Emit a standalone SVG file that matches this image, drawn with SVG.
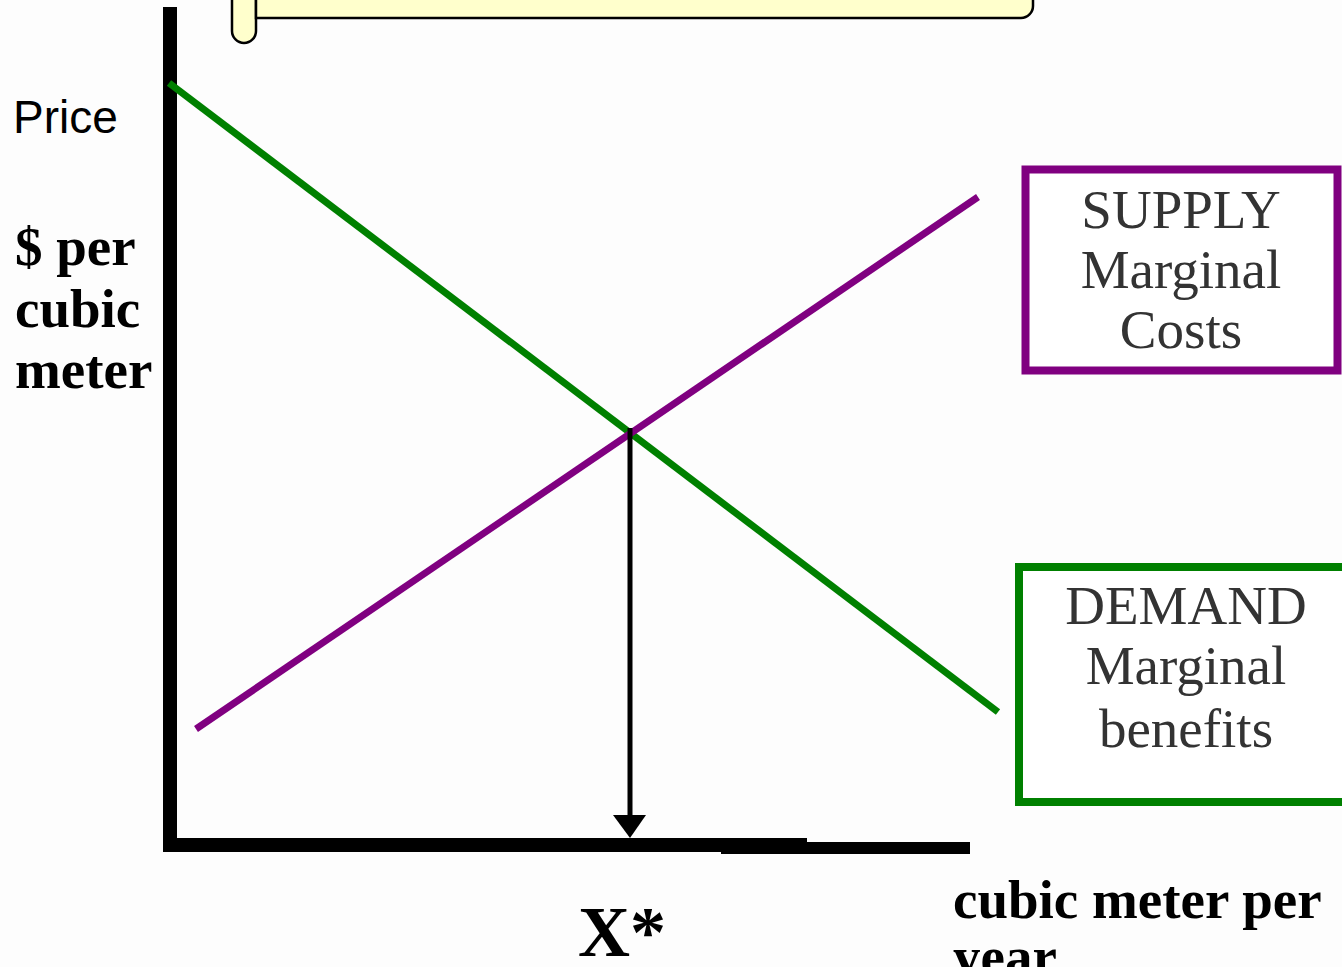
<svg xmlns="http://www.w3.org/2000/svg" width="1342" height="967" viewBox="0 0 1342 967">
<style>
.serif{font-family:"Liberation Serif","Times New Roman",serif}
.bold{font-weight:bold;fill:#000}
.box{fill:#fff;stroke-width:8}
.boxtxt{font-size:55px;fill:#333;text-anchor:middle}
.curve{stroke-width:7;fill:none}
</style>
<rect x="0" y="0" width="1342" height="967" fill="#fdfdfd"/>
<g id="scroll">
<path d="M232,-10 L232,31 A12,12 0 0 0 256,31 L256,-10 Z" fill="#ffffcc" stroke="#000" stroke-width="2.5"/>
<path d="M256,-10 L256,18 L1021,18 A12,12 0 0 0 1033,6 L1033,-10 Z" fill="#ffffcc" stroke="#000" stroke-width="2.5"/>
</g>
<g id="axes" fill="#000">
<rect x="163" y="7" width="14" height="845"/>
<rect x="165" y="838" width="642" height="14"/>
<rect x="721" y="842" width="249" height="12"/>
</g>
<g id="connectors">
<line class="curve" x1="169" y1="83" x2="998" y2="712" stroke="#008000"/>
<line class="curve" x1="196" y1="729" x2="978" y2="197" stroke="#800080"/>
<line x1="630" y1="428" x2="630" y2="820" stroke="#000" stroke-width="5"/>
<polygon points="613,815 646,815 630,838" fill="#000"/>
</g>
<g id="price-label">
<text x="13" y="133" font-family="Liberation Sans, Arial, sans-serif" font-size="46" fill="#000">Price</text>
</g>
<g id="y-label" class="serif bold" font-size="55">
<text x="15" y="265">$ per</text>
<text x="15" y="327">cubic</text>
<text x="15" y="388">meter</text>
</g>
<g id="supply">
<rect class="box" x="1025.5" y="169.5" width="312" height="201" stroke="#800080" stroke-width="7"/>
<text class="serif boxtxt" x="1181" y="228">SUPPLY</text>
<text class="serif boxtxt" x="1181" y="288">Marginal</text>
<text class="serif boxtxt" x="1181" y="348">Costs</text>
</g>
<g id="demand">
<rect class="box" x="1019" y="567" width="340" height="235" stroke="#008000"/>
<text class="serif boxtxt" x="1186" y="624">DEMAND</text>
<text class="serif boxtxt" x="1186" y="684">Marginal</text>
<text class="serif boxtxt" x="1186" y="747">benefits</text>
</g>
<g id="x-star">
<text class="serif bold" x="578" y="956" font-size="72">X*</text>
</g>
<g id="x-label" class="serif bold" font-size="55">
<text x="953" y="918">cubic meter per</text>
<text x="953" y="975">year</text>
</g>
</svg>
